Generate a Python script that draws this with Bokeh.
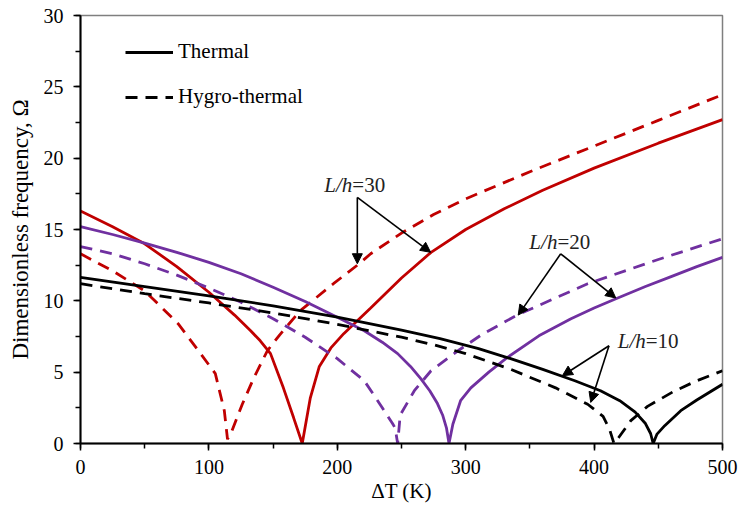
from bokeh.plotting import figure
from bokeh.models import (Range1d, Legend, LegendItem, Arrow, NormalHead, Label,
                          SingleIntervalTicker, ColumnDataSource)
from bokeh.embed import file_html
from bokeh.resources import INLINE

# ---------------- data ----------------
# L/h = 30
dT_th30 = [0, 25, 50, 75, 100, 120, 132.5, 140, 148, 158, 166, 172.7, 179, 186, 195, 205, 226, 250, 273, 300, 330, 360, 400, 450, 500]
om_th30 = [16.3, 15.2, 14.0, 12.4, 10.6, 9.0, 7.9, 7.2, 6.3, 3.9, 1.8, 0.0, 3.2, 5.4, 6.7, 7.7, 9.5, 11.6, 13.4, 15.0, 16.45, 17.75, 19.3, 21.05, 22.7]
dT_hy30 = [0, 25, 50, 76, 93.5, 105, 112, 114.5, 118, 126, 135, 145.5, 155, 171, 197, 217, 226, 250, 275, 300, 350, 400, 450, 500]
om_hy30 = [13.3, 12.1, 10.7, 8.4, 6.3, 4.9, 2.3, 0.3, 0.9, 2.75, 4.6, 6.5, 7.6, 9.3, 11.2, 12.6, 13.3, 14.75, 16.05, 17.15, 19.05, 20.85, 22.65, 24.45]
# L/h = 20
dT_th20 = [0, 25, 50, 75, 100, 125, 150, 175, 200, 221, 235, 247, 257, 265, 272, 278, 282, 285, 287,
           290, 296, 304, 318, 332, 357, 382, 400, 417, 440, 460, 480, 500]
om_th20 = [15.2, 14.65, 14.05, 13.4, 12.7, 11.9, 10.95, 9.95, 8.85, 7.9, 7.1, 6.3, 5.4, 4.55, 3.7, 2.8, 2.0, 1.1, 0.0,
           1.35, 3.0, 3.9, 5.0, 6.0, 7.55, 8.75, 9.5, 10.15, 11.0, 11.7, 12.4, 13.05]
dT_hy20 = [0, 25, 50, 75, 100, 125, 150, 175, 200, 221, 234, 243, 245, 247, 249, 260, 273, 294, 312, 340, 395, 450, 500]
om_hy20 = [13.8, 13.3, 12.6, 11.8, 10.9, 9.9, 8.75, 7.45, 5.95, 4.4, 2.65, 1.4, 1.1, 0.0, 2.0, 3.7, 5.1, 6.5, 7.6, 9.0, 11.2, 12.9, 14.35]
# L/h = 10
dT_th10 = [0, 50, 100, 150, 200, 250, 280, 310, 335, 360, 385, 405, 420, 432, 440, 444, 446, 449, 455, 467.5, 480, 500]
om_th10 = [11.65, 11.0, 10.35, 9.65, 8.85, 7.95, 7.35, 6.65, 5.95, 5.2, 4.4, 3.7, 3.0, 2.2, 1.4, 0.7, 0.0, 0.66, 1.25, 2.3, 3.05, 4.15]
dT_hy10 = [0, 50, 100, 150, 200, 250, 275, 300, 335, 370, 395, 407, 412, 415.5, 419, 428.6, 441.6, 462, 480, 500]
om_hy10 = [11.2, 10.5, 9.85, 9.15, 8.35, 7.45, 6.92, 6.3, 5.2, 3.9, 2.75, 1.9, 1.0, 0.0, 0.4, 1.6, 2.6, 3.65, 4.4, 5.1]

series_labels = ["Thermal", "Hygro-thermal"]
x_ticks = [0, 100, 200, 300, 400, 500]
y_ticks = [0, 5, 10, 15, 20, 25, 30]

# annotations: label text pieces, label anchor, arrow start (vertex) and arrow ends
ann_italic = ["L/h", "L/h", "L/h"]
ann_value = ["=30", "=20", "=10"]
ann_x = [211.7, 371.4, 440.2]
ann_y = [18.1, 14.1, 7.2]
arr_x0 = [215.6, 215.6, 374.0, 374.0, 411.6, 411.6]
arr_y0 = [17.25, 17.25, 13.3, 13.3, 6.85, 6.85]
arr_x1 = [215.6, 272.7, 340.9, 416.9, 375.3, 397.4]
arr_y1 = [12.6, 13.4, 9.0, 10.2, 4.75, 2.88]

RED = "#C00000"
PURPLE = "#7030A0"
BLACK = "#000000"
FONT = "Liberation Serif"
DASH = "12 8"
LW = 2.8

p = figure(width=739, height=509, output_backend="svg", toolbar_location=None,
           x_range=Range1d(0, 500), y_range=Range1d(0, 30),
           min_border_left=80, min_border_right=17, min_border_top=15, min_border_bottom=66,
           background_fill_color="white", border_fill_color="white")
p.grid.visible = False
p.outline_line_color = "#7f7f7f"
p.outline_line_width = 1.5

r_th30 = p.line(dT_th30, om_th30, line_color=RED, line_width=LW)
r_hy30 = p.line(dT_hy30, om_hy30, line_color=RED, line_width=LW, line_dash=DASH)
r_th20 = p.line(dT_th20, om_th20, line_color=PURPLE, line_width=LW)
r_hy20 = p.line(dT_hy20, om_hy20, line_color=PURPLE, line_width=LW, line_dash=DASH)
r_th10 = p.line(dT_th10, om_th10, line_color=BLACK, line_width=LW)
r_hy10 = p.line(dT_hy10, om_hy10, line_color=BLACK, line_width=LW, line_dash=DASH)

# axes
for ax in (p.xaxis[0], p.yaxis[0]):
    ax.axis_line_color = "black"
    ax.axis_line_width = 2
    ax.major_tick_line_color = "black"
    ax.major_tick_line_width = 1.5
    ax.minor_tick_line_color = "black"
    ax.minor_tick_line_width = 1.5
    ax.major_tick_out = 7
    ax.major_tick_in = 0
    ax.minor_tick_out = 5
    ax.minor_tick_in = 0
    ax.major_label_text_font = FONT
    ax.major_label_text_font_size = "20px"
    ax.major_label_text_color = "black"
    ax.axis_label_text_font = FONT
    ax.axis_label_text_font_size = "21px"
    ax.axis_label_text_font_style = "normal"
    ax.axis_label_text_color = "black"

p.yaxis.axis_label_text_font_size = "23px"
p.xaxis.ticker = SingleIntervalTicker(interval=x_ticks[1] - x_ticks[0], num_minor_ticks=2)
p.yaxis.ticker = SingleIntervalTicker(interval=y_ticks[1] - y_ticks[0], num_minor_ticks=2)
p.xaxis.axis_label = "ΔT (K)"
p.yaxis.axis_label = "Dimensionless frequency, Ω"
p.xaxis.major_label_standoff = 9
p.xaxis.axis_label_standoff = 2
p.yaxis.major_label_standoff = 10
p.yaxis.axis_label_standoff = 8

# legend
legend = Legend(items=[LegendItem(label=series_labels[0], renderers=[r_th10]),
                       LegendItem(label=series_labels[1], renderers=[r_hy10])],
                location=(45, 334), orientation="vertical",
                glyph_width=48, glyph_height=24, label_height=24, label_width=10,
                spacing=20, padding=0, margin=0, label_standoff=5,
                label_text_font=FONT, label_text_font_size="21px", label_text_color="black",
                border_line_color=None, background_fill_alpha=0)
p.add_layout(legend)

# arrows
arr_src = ColumnDataSource(dict(x0=arr_x0, y0=arr_y0, x1=arr_x1, y1=arr_y1))
p.add_layout(Arrow(source=arr_src, x_start="x0", y_start="y0", x_end="x1", y_end="y1",
                   line_color="black", line_width=1.6,
                   end=NormalHead(size=10, fill_color="black", line_color="black", line_width=1)))

# L/h labels (italic part + roman part)
for it, val, ax_, ay_ in zip(ann_italic, ann_value, ann_x, ann_y):
    p.add_layout(Label(x=ax_, y=ay_, text=it, text_font=FONT, text_font_style="italic",
                       text_font_size="21px", text_align="right", text_baseline="middle",
                       text_color="#222222"))
    p.add_layout(Label(x=ax_, y=ay_, text=val, text_font=FONT,
                       text_font_size="21px", text_align="left", text_baseline="middle",
                       text_color="#222222"))

open("out.html", "w").write(file_html(p, INLINE))
